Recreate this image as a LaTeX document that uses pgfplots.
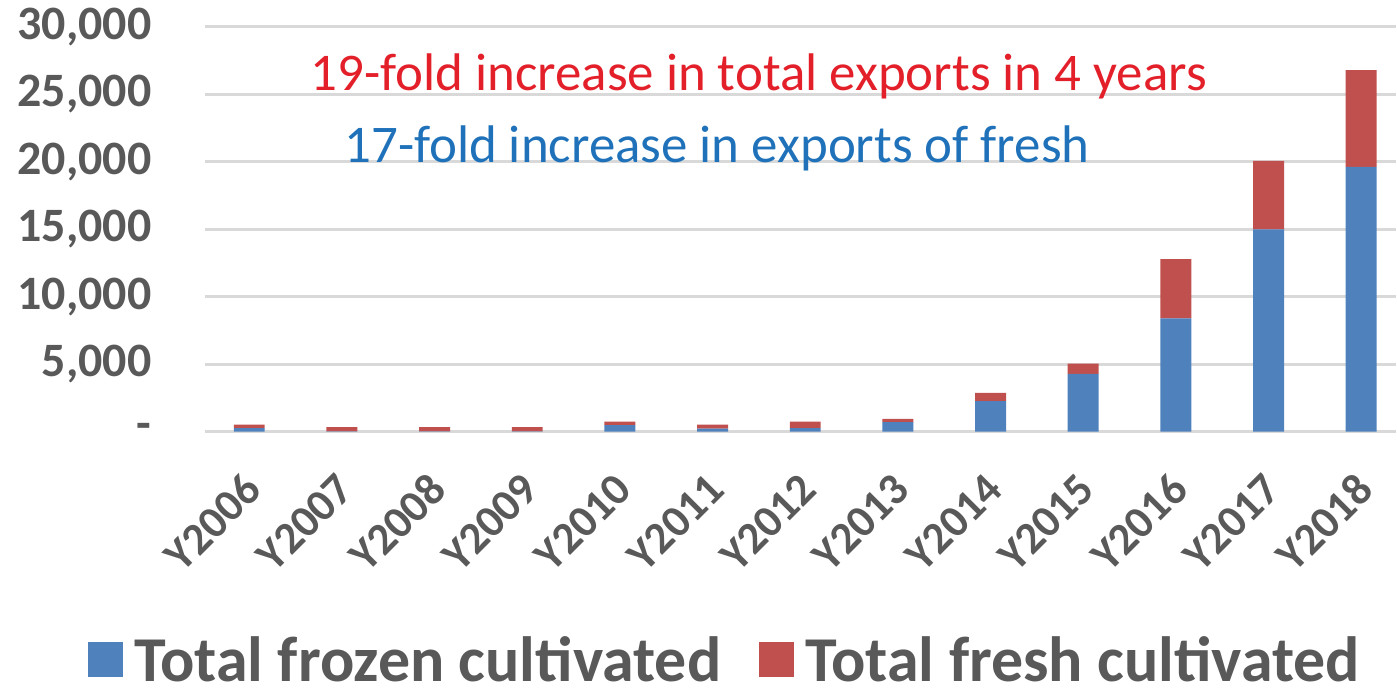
\documentclass[border=0pt]{standalone}
\usepackage{pgfplots}
\pgfplotsset{compat=1.18}
\usepackage{fontspec}
\setmainfont{Carlito}
\definecolor{cblue}{HTML}{4F81BD}
\definecolor{cred}{HTML}{C0504D}
\definecolor{tgray}{HTML}{595959}
\definecolor{ggray}{HTML}{D9D9D9}
\definecolor{annred}{HTML}{E3202A}
\definecolor{annblue}{HTML}{1F72BA}
\begin{document}
\begin{tikzpicture}
\begin{axis}[
  at={(0pt,0pt)}, anchor=south west,
  scale only axis, width=1192pt, height=405pt,
  ybar stacked, bar width=31pt,
  xmin=-0.48, xmax=12.37,
  ymin=0, ymax=30000,
  scaled y ticks=false,
  ytick={0,5000,10000,15000,20000,25000,30000},
  yticklabels={-,{5,000},{10,000},{15,000},{20,000},{25,000},{30,000}},
  xtick={0,...,12},
  xticklabels={Y2006,Y2007,Y2008,Y2009,Y2010,Y2011,Y2012,Y2013,Y2014,Y2015,Y2016,Y2017,Y2018},
  ymajorgrids, grid style={ggray, line width=3pt},
  axis line style={draw=none},
  major tick length=0pt,
  yticklabel style={font=\fontsize{48}{48}\selectfont\bfseries, text=tgray, xshift=-50pt},
  xticklabel style={font=\fontsize{45}{45}\selectfont\bfseries, text=tgray, xshift=6pt, yshift=-48pt, rotate=45, anchor=east},
  legend columns=2,
  legend style={draw=none, fill=none, at={(0.437,-0.563)}, anchor=center,
    font=\fontsize{64}{64}\selectfont\bfseries, text=tgray,
    /tikz/every even column/.append style={column sep=36pt}},
  legend image code/.code={\draw[#1,draw=none] (0pt,-18pt) rectangle (35pt,17pt); \path (44pt,0pt);},
]
\addplot[fill=cblue, draw=none] coordinates {
 (0,250) (1,20) (2,20) (3,20) (4,470) (5,220) (6,250) (7,690) (8,2250) (9,4270) (10,8390) (11,15000) (12,19630)};
\addplot[fill=cred, draw=none] coordinates {
 (0,270) (1,300) (2,300) (3,300) (4,270) (5,300) (6,490) (7,250) (8,620) (9,770) (10,4400) (11,5070) (12,7170)};
\legend{Total frozen cultivated, Total fresh cultivated}
\node[text=annred, font=\fontsize{53}{53}\selectfont] at (axis cs:5.50,26300) {19-fold increase in total exports in 4 years};
\node[text=annblue, font=\fontsize{53}{53}\selectfont] at (axis cs:5.05,21000) {17-fold increase in exports of fresh};
\end{axis}
\path[use as bounding box] (-205pt,-256pt) rectangle (1192pt,432pt);
\end{tikzpicture}
\end{document}
